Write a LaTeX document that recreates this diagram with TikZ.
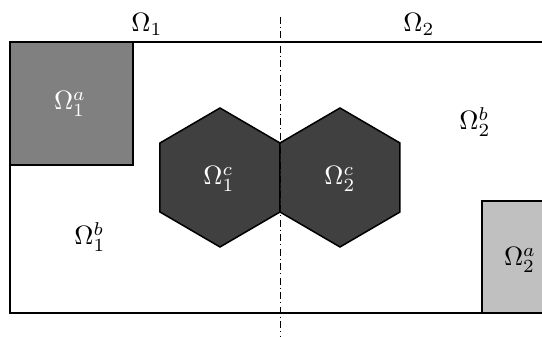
\documentclass[tikz,border=0pt]{standalone}
\begin{document}
\begin{tikzpicture}[x=0.4pt,y=-0.4pt,
  bnd/.style={line width=0.8pt},
  hexa/.style={draw=black,line width=0.6pt,fill=hexgray},
  lbl/.style={inner sep=0pt,scale=1.06},
  wlbl/.style={lbl,text=white}]
\definecolor{hexgray}{HTML}{404040}
\definecolor{midgray}{HTML}{808080}
\definecolor{lightgray2}{HTML}{C0C0C0}
\useasboundingbox (0,0) rectangle (542,337);
\clip (0,0) rectangle (542,337);
% squares
\draw[bnd,fill=midgray] (10,42) rectangle (133,165);
\draw[bnd,fill=lightgray2] (482,201) rectangle (560,313);
% outer boundary
\draw[bnd] (10,42) rectangle (560,313);
% hexagons
\draw[hexa] (220,108) -- (280,143) -- (280,212) -- (220,247) -- (160,212) -- (160,143) -- cycle;
\draw[hexa] (340,108) -- (400,143) -- (400,212) -- (340,247) -- (280,212) -- (280,143) -- cycle;
% interface
\coordinate (itop) at (280.5,17);
\coordinate (ibot) at (280.5,337);
\draw[line width=0.75pt,dash pattern=on 2.8pt off 1.1pt on 0.4pt off 1.5pt] (itop) -- (ibot);
% labels
\node[lbl] (O1) at (147,24) {$\Omega_1$};
\node[lbl] (O2) at (419,24) {$\Omega_2$};
\node[wlbl] (O1a) at (70,104) {$\Omega_1^a$};
\node[lbl] (O1b) at (90,237) {$\Omega_1^b$};
\node[wlbl] (O1c) at (219,179) {$\Omega_1^c$};
\node[wlbl] (O2c) at (340,179) {$\Omega_2^c$};
\node[lbl] (O2b) at (475,122) {$\Omega_2^b$};
\node[lbl] (O2a) at (520,260) {$\Omega_2^a$};
\end{tikzpicture}
\end{document}
